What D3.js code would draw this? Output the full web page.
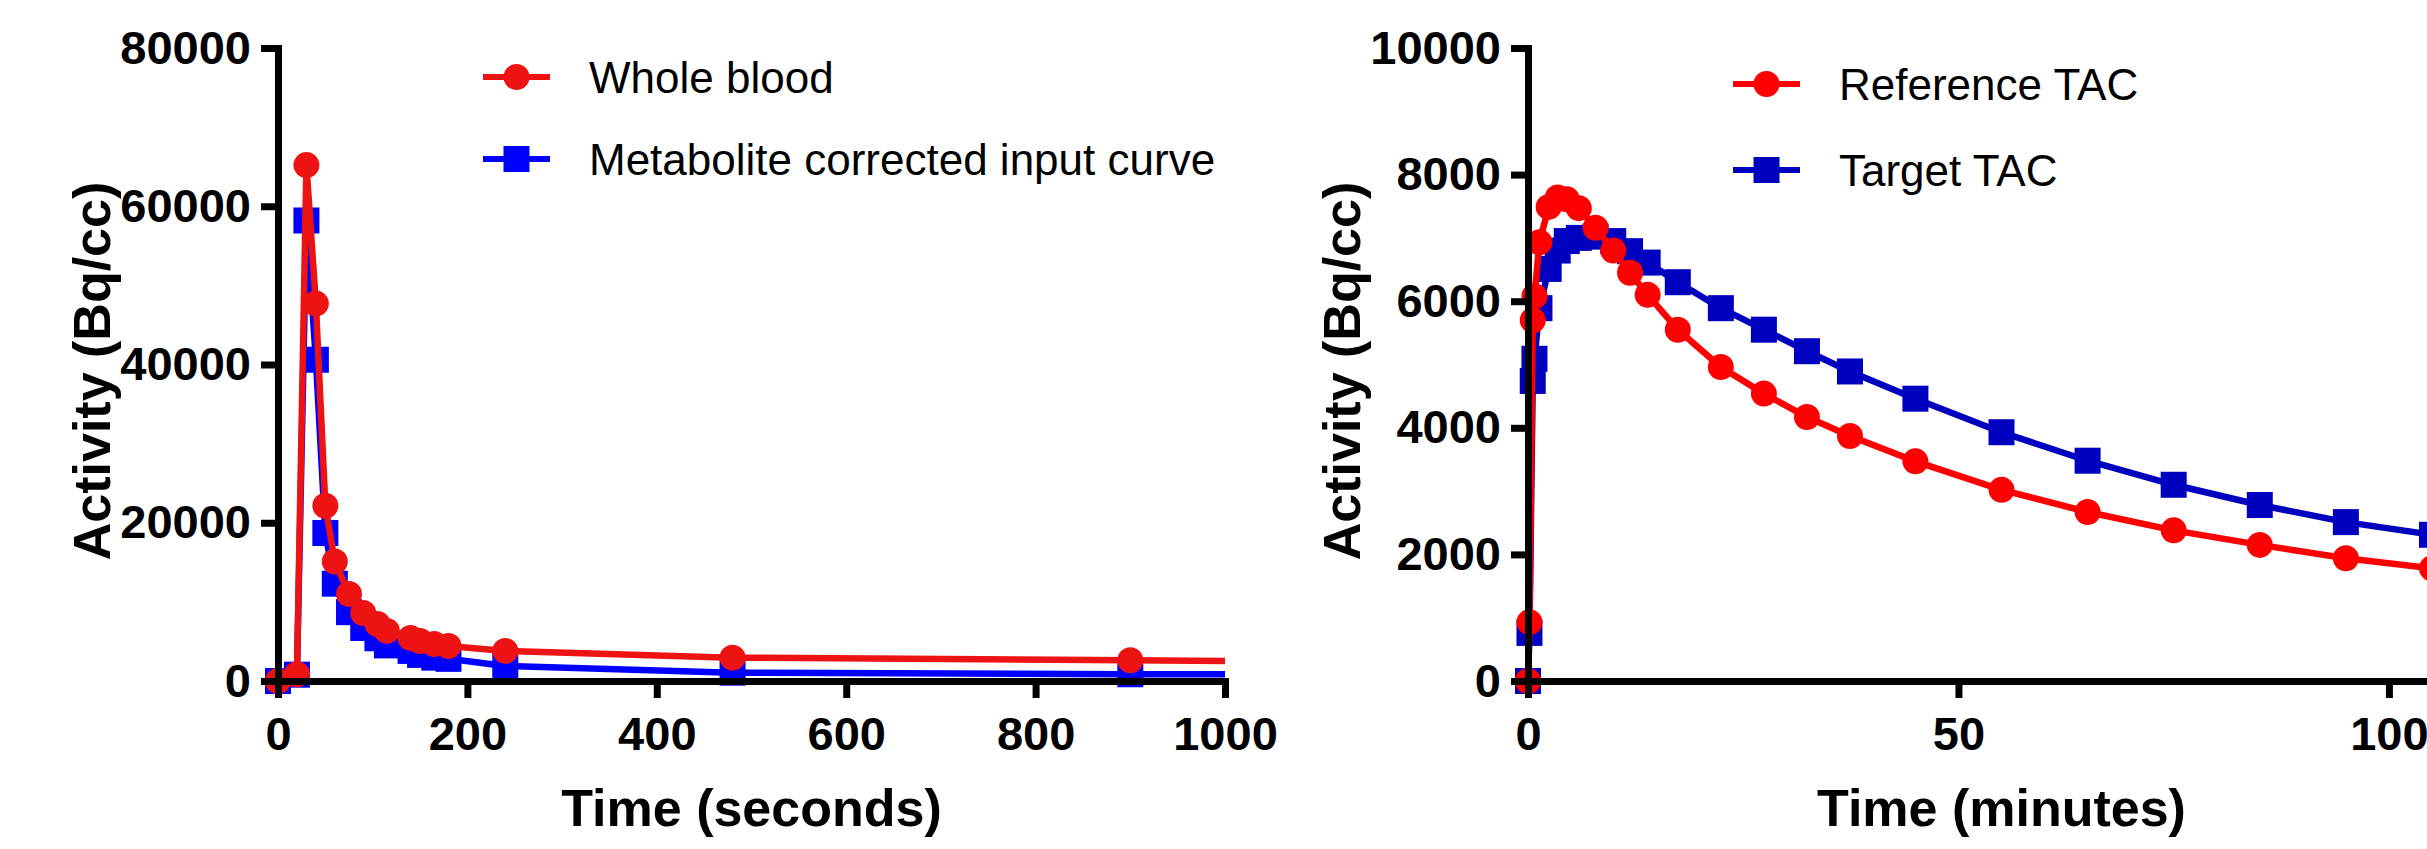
<!DOCTYPE html>
<html>
<head>
<meta charset="utf-8">
<script src="https://cdn.jsdelivr.net/npm/d3@7"></script>
<style>
  html, body { margin: 0; padding: 0; background: #fff; overflow: hidden; }
  svg { display: block; }
</style>
</head>
<body>
<div id="chart"></div>
<script>
// left panel: blood input function, time in seconds
var bloodTime = [0, 20, 30, 40, 50, 60, 75, 90, 105, 115, 140, 150, 165, 180, 240, 480, 900, 1200];
var wholeBlood = [0, 850, 65200, 47700, 22150, 15100, 11000, 8600, 7200, 6330, 5450, 5060, 4680, 4430, 3800, 2950, 2620, 2350];
var metaboliteCorrected = [0, 800, 58200, 40600, 18700, 12300, 8700, 6700, 5400, 4500, 3800, 3300, 2950, 2800, 1900, 1050, 850, 830];
var bloodXTicks = [0, 200, 400, 600, 800, 1000];
var bloodYTicks = [0, 20000, 40000, 60000, 80000];

// right panel: time activity curves, time in minutes
var tacTime = [0, 0.17, 0.55, 0.75, 1.33, 2.4, 3.45, 4.5, 5.9, 7.85, 9.9, 11.85, 13.9, 17.4, 22.4, 27.4, 32.4, 37.4, 45, 55, 65, 75, 85, 95, 105];
var referenceTAC = [0, 930, 5700, 6080, 6930, 7490, 7640, 7610, 7470, 7160, 6800, 6450, 6100, 5550, 4960, 4540, 4170, 3870, 3470, 3020, 2670, 2380, 2150, 1940, 1780];
var targetTAC = [0, 760, 4740, 5090, 5890, 6510, 6800, 6950, 7000, 7020, 6950, 6790, 6610, 6300, 5890, 5550, 5210, 4890, 4460, 3930, 3480, 3100, 2780, 2510, 2310];
var tacXTicks = [0, 50, 100];
var tacYTicks = [0, 2000, 4000, 6000, 8000, 10000];

var width = 2427, height = 849;
var plotTop = 48, plotW = 947, plotH = 633;
var font = '"Liberation Sans", Arial, Helvetica, sans-serif';

var svg = d3.select('#chart')
  .append('svg')
  .attr('width', width)
  .attr('height', height)
  .style('font-family', font);

function drawPanel(cfg) {
  var g = svg.append('g')
    .attr('transform', 'translate(' + cfg.left + ',' + plotTop + ')');

  var x = d3.scaleLinear().domain(cfg.xDomain).range([0, plotW]);
  var y = d3.scaleLinear().domain(cfg.yDomain).range([plotH, 0]);

  var clipId = 'clip-' + cfg.id;
  g.append('clipPath').attr('id', clipId)
    .append('rect')
    .attr('x', -60).attr('y', -60)
    .attr('width', plotW + 60).attr('height', plotH + 120);

  // series, blue first so red sits on top
  var plot = g.append('g').attr('clip-path', 'url(#' + clipId + ')');
  cfg.series.slice().reverse().forEach(function(s) {
    var pts = cfg.time.map(function(t, i) { return [t, s.values[i]]; });
    var line = d3.line()
      .x(function(d) { return x(d[0]); })
      .y(function(d) { return y(d[1]); });

    plot.append('path')
      .datum(pts)
      .attr('d', line)
      .attr('fill', 'none')
      .attr('stroke', s.color)
      .attr('stroke-width', 6.5)
      .attr('stroke-linejoin', 'round');

    var shown = pts.filter(function(d) { return d[0] <= cfg.xDomain[1]; });
    if (s.shape === 'circle') {
      plot.selectAll(null)
        .data(shown)
        .enter()
        .append('circle')
        .attr('cx', function(d) { return x(d[0]); })
        .attr('cy', function(d) { return y(d[1]); })
        .attr('r', 13)
        .attr('fill', s.color);
    } else {
      plot.selectAll(null)
        .data(shown)
        .enter()
        .append('rect')
        .attr('x', function(d) { return x(d[0]) - 13; })
        .attr('y', function(d) { return y(d[1]) - 13; })
        .attr('width', 26)
        .attr('height', 26)
        .attr('fill', s.color);
    }
  });

  // axes
  var xAxis = g.append('g')
    .attr('transform', 'translate(0,' + plotH + ')')
    .call(d3.axisBottom(x)
      .tickValues(cfg.xTicks)
      .tickSize(17)
      .tickSizeOuter(0)
      .tickPadding(19)
      .tickFormat(d3.format('d')));

  var yAxis = g.append('g')
    .call(d3.axisLeft(y)
      .tickValues(cfg.yTicks)
      .tickSize(17)
      .tickSizeOuter(0)
      .tickPadding(10)
      .tickFormat(d3.format('d')));

  [xAxis, yAxis].forEach(function(ax) {
    ax.attr('font-family', null).attr('font-size', null);
    ax.selectAll('path, line')
      .attr('stroke', '#000')
      .attr('stroke-width', 7);
    ax.select('.domain').attr('stroke-linecap', 'square');
    ax.selectAll('text')
      .attr('fill', '#000')
      .style('font-family', font)
      .style('font-size', '47px')
      .style('font-weight', 'bold');
  });

  // axis titles
  g.append('text')
    .attr('x', plotW / 2)
    .attr('y', 826 - plotTop)
    .attr('text-anchor', 'middle')
    .style('font-size', '52px')
    .style('font-weight', 'bold')
    .text(cfg.xTitle);

  g.append('text')
    .attr('transform', 'translate(-168,' + (371 - plotTop) + ') rotate(-90)')
    .attr('text-anchor', 'middle')
    .style('font-size', '52px')
    .style('font-weight', 'bold')
    .text(cfg.yTitle);

  // legend
  var legend = g.append('g')
    .attr('transform', 'translate(205,0)');

  cfg.series.forEach(function(s, i) {
    var ly = cfg.legendY[i] - plotTop;
    var item = legend.append('g').attr('transform', 'translate(0,' + ly + ')');
    item.append('line')
      .attr('x1', 0).attr('x2', 67)
      .attr('y1', 0).attr('y2', 0)
      .attr('stroke', s.color)
      .attr('stroke-width', 6);
    if (s.shape === 'circle') {
      item.append('circle').attr('cx', 33.5).attr('cy', 0).attr('r', 13).attr('fill', s.color);
    } else {
      item.append('rect').attr('x', 20.5).attr('y', -13).attr('width', 26).attr('height', 26).attr('fill', s.color);
    }
    item.append('text')
      .attr('x', 106)
      .attr('y', 16)
      .style('font-size', '44px')
      .attr('fill', '#000')
      .text(s.name);
  });
}

drawPanel({
  id: 'blood',
  left: 278,
  time: bloodTime,
  xDomain: [0, 1000],
  yDomain: [0, 80000],
  xTicks: bloodXTicks,
  yTicks: bloodYTicks,
  xTitle: 'Time (seconds)',
  yTitle: 'Activity (Bq/cc)',
  legendY: [77, 159],
  series: [
    { name: 'Whole blood', values: wholeBlood, color: '#ee1313', shape: 'circle' },
    { name: 'Metabolite corrected input curve', values: metaboliteCorrected, color: '#0000ff', shape: 'square' }
  ]
});

drawPanel({
  id: 'tac',
  left: 1528,
  time: tacTime,
  xDomain: [0, 110],
  yDomain: [0, 10000],
  xTicks: tacXTicks,
  yTicks: tacYTicks,
  xTitle: 'Time (minutes)',
  yTitle: 'Activity (Bq/cc)',
  legendY: [84, 170],
  series: [
    { name: 'Reference TAC', values: referenceTAC, color: '#ff0000', shape: 'circle' },
    { name: 'Target TAC', values: targetTAC, color: '#0000bf', shape: 'square' }
  ]
});
</script>
</body>
</html>
